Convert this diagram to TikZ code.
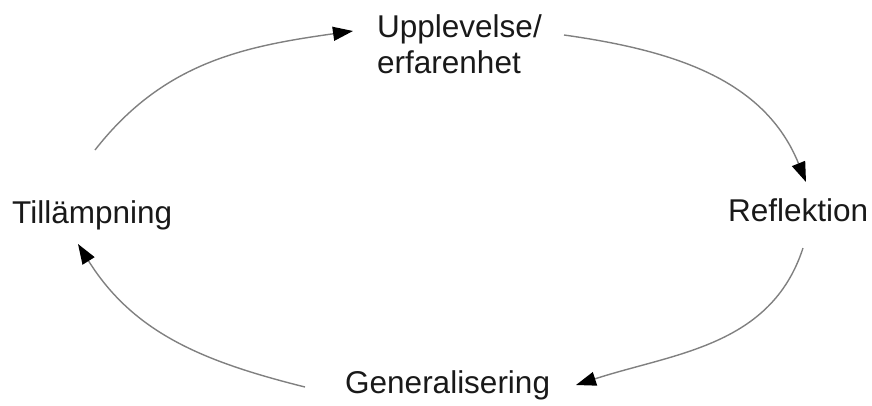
\documentclass[tikz,border=0pt]{standalone}
\usepackage{fontspec}
\setmainfont{Liberation Sans}
\usetikzlibrary{arrows.meta}

\tikzset{
  label text/.style={inner sep=0pt, font=\fontsize{31.5}{36}\selectfont, text=black!90},
  cycle arrow/.style={draw=black!50, line width=1.4pt,
    -{Triangle[length=20pt,width=14pt,color=black]}}
}

\begin{document}
\begin{tikzpicture}[x=1pt,y=-1pt]
  \useasboundingbox (0,0) rectangle (872,405);

  % the four stages of the cycle
  \node[label text, anchor=north west, align=left] (upp) at (377,14) {Upplevelse/\\erfarenhet};
  \node[label text, anchor=base west] (refl) at (728,221) {Reflektion};
  \node[label text, anchor=base west] (gen) at (345,393) {Generalisering};
  \node[label text, anchor=base west] (till) at (12,223) {Tillämpning};

  % loose ends of the arcs between the stages
  \coordinate (a1s) at (95,150);   \coordinate (a1e) at (353,31);
  \coordinate (a2s) at (564,35);   \coordinate (a2e) at (806,182);
  \coordinate (a3s) at (803,248);  \coordinate (a3e) at (576,385);
  \coordinate (a4s) at (305,387);  \coordinate (a4e) at (78,244);

  % out/in angles are given with y pointing up
  \draw[cycle arrow] (a1s) to[out=52,in=188] (a1e);
  \draw[cycle arrow] (a2s) to[out=-8,in=112] (a2e);
  \draw[cycle arrow] (a3s) to[out=-108,in=18] (a3e);
  \draw[cycle arrow] (a4s) to[out=166,in=-58] (a4e);
\end{tikzpicture}
\end{document}
